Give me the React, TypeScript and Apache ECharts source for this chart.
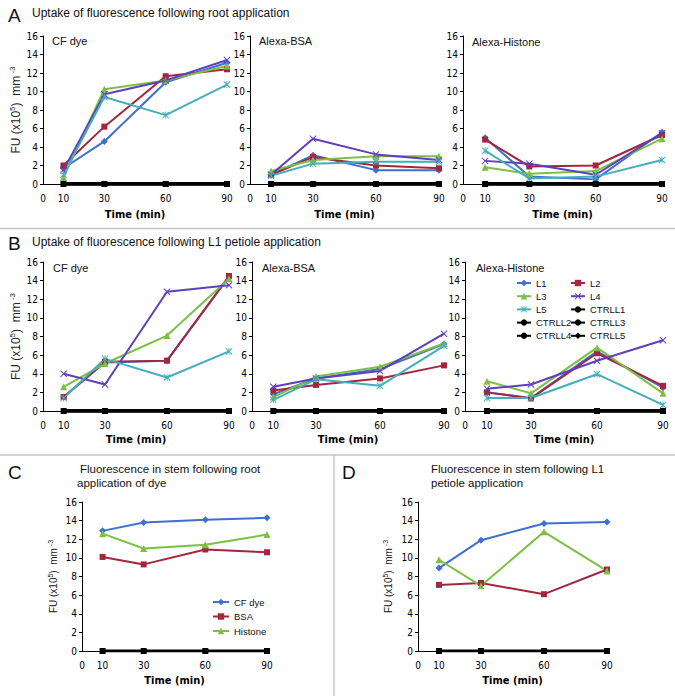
import React, { useEffect, useRef } from "react";
import * as echarts from "echarts";

// ---------- data ----------
const times = [10, 30, 60, 90];
const xTickValues = [0, 10, 30, 60, 90];
const lineNames = ["L1", "L2", "L3", "L4", "L5"];
const ctrlNames = ["CTRLL1", "CTRLL2", "CTRLL3", "CTRLL4", "CTRLL5"];
const stemNames = ["CF dye", "BSA", "Histone"];
const control = [0, 0, 0, 0];

// A: root application (rows L1..L5, columns 10,30,60,90 min)
const rootCFDye = [
  [1.7, 4.6, 11.0, 13.1],
  [2.0, 6.2, 11.65, 12.4],
  [0.7, 10.25, 11.2, 12.75],
  [1.5, 9.7, 11.2, 13.4],
  [1.0, 9.4, 7.45, 10.75],
];
const rootBSA = [
  [1.0, 3.1, 1.5, 1.5],
  [1.0, 2.9, 2.0, 1.7],
  [1.4, 2.6, 3.0, 3.0],
  [1.0, 4.9, 3.2, 2.6],
  [0.9, 2.2, 2.4, 2.4],
];
const rootHistone = [
  [5.0, 0.8, 0.5, 5.6],
  [4.8, 1.9, 2.0, 5.3],
  [1.8, 1.1, 1.4, 4.9],
  [2.5, 2.2, 1.0, 5.5],
  [3.6, 0.6, 0.8, 2.6],
];
// B: L1 petiole application
const petioleCFDye = [
  [1.5, 5.2, 5.4, 14.4],
  [1.5, 5.3, 5.4, 14.5],
  [2.6, 5.1, 8.1, 14.2],
  [4.0, 2.85, 12.8, 13.5],
  [1.4, 5.6, 3.6, 6.4],
];
const petioleBSA = [
  [1.8, 3.5, 4.5, 7.2],
  [2.2, 2.8, 3.5, 4.9],
  [1.5, 3.7, 4.75, 7.25],
  [2.6, 3.5, 4.3, 8.3],
  [1.2, 3.4, 2.7, 7.0],
];
const petioleHistone = [
  [2.0, 1.4, 6.4, 2.5],
  [2.0, 1.35, 6.2, 2.7],
  [3.2, 1.9, 6.8, 1.9],
  [2.4, 2.85, 5.4, 7.6],
  [1.4, 1.4, 3.95, 0.65],
];
// C / D: stem
const stemRoot = [
  [12.9, 13.8, 14.1, 14.3],
  [10.1, 9.3, 10.9, 10.6],
  [12.6, 11.0, 11.4, 12.5],
];
const stemPetiole = [
  [8.9, 11.9, 13.7, 13.85],
  [7.1, 7.3, 6.1, 8.75],
  [9.8, 7.0, 12.8, 8.6],
];

// ---------- styles ----------
const FONT = "'Liberation Sans', Arial, sans-serif";
const NARROW = "'Liberation Sans Narrow', 'DejaVu Sans Condensed', 'Liberation Sans', sans-serif";
const lineColors = ["#3F6FD0", "#A3263F", "#7BC043", "#5E3FBF", "#42AFBA"];
const X_PATH = "path://M0,1 L1,0 L5,4 L9,0 L10,1 L6,5 L10,9 L9,10 L5,6 L1,10 L0,9 L4,5 Z";
const STAR_PATH =
  "path://M0,1 L1,0 L5,4 L9,0 L10,1 L6,5 L10,9 L9,10 L5,6 L1,10 L0,9 L4,5 Z M4.4,0 L5.6,0 L5.6,10 L4.4,10 Z";
const lineSymbols = ["diamond", "rect", "triangle", X_PATH, STAR_PATH];
const lineSymbolSizes = [7, 6, 7, 7, 7];
const ctrlSymbols = ["circle", "circle", "none", "none", "diamond"];

const gridBoxes = [
  [43, 36, 184, 148],
  [250, 36, 189, 148],
  [463, 36, 199, 148],
  [43, 262, 186, 149],
  [252, 262, 192, 149],
  [465, 262, 198, 149],
  [82, 502, 185, 149],
  [418, 502, 189, 149],
];

function buildOption() {
  const grids = gridBoxes.map(([l, t, w, h]) => ({ left: l, top: t, width: w, height: h }));
  const yNameGrids: Record<number, { gap: number; size: number }> = {
    0: { gap: 17, size: 12 },
    3: { gap: 17, size: 12 },
    6: { gap: 23, size: 10 },
    7: { gap: 24, size: 10 },
  };
  const xNameGap = [25, 25, 25, 23, 23, 23, 24, 24];
  const xAxes = gridBoxes.map((_, g) => ({
    gridIndex: g,
    type: "value",
    min: 0,
    max: 90,
    axisLine: { onZero: false, lineStyle: { color: "#000", width: 1 } },
    axisTick: { show: false },
    splitLine: { show: false },
    axisLabel: {
      customValues: xTickValues,
      margin: 9,
      fontSize: 10,
      color: "#000",
      fontFamily: NARROW,
    },
    name: "Time (min)",
    nameLocation: "middle",
    nameGap: xNameGap[g],
    nameTextStyle: { fontWeight: "bold", fontSize: 11, color: "#000", fontFamily: NARROW },
  }));
  const yAxes = gridBoxes.map((_, g) => {
    const nm = yNameGrids[g];
    return {
      gridIndex: g,
      type: "value",
      min: 0,
      max: 16,
      interval: 2,
      axisLine: { show: true, lineStyle: { color: "#000", width: 1 } },
      axisTick: { show: true, length: 3, lineStyle: { color: "#000" } },
      splitLine: { show: false },
      axisLabel: { fontSize: 10, margin: 5, color: "#000", fontFamily: NARROW },
      name: nm ? "FU (x10{sup|5})  mm{sup| -3}" : "",
      nameLocation: "middle",
      nameGap: nm ? nm.gap : 0,
      nameTextStyle: nm
        ? {
            fontSize: nm.size,
            color: "#222",
            fontFamily: FONT,
            lineHeight: nm.size + 2,
            rich: {
              sup: {
                fontSize: Math.round(nm.size * 0.7),
                lineHeight: Math.round(nm.size * 0.7),
                verticalAlign: "top",
                color: "#222",
                fontFamily: FONT,
              },
            },
          }
        : undefined,
    };
  });

  const series: any[] = [];
  const ctrlOverlay = (g: number) => ({
    type: "line",
    name: "ctrl",
    xAxisIndex: g,
    yAxisIndex: g,
    data: times.map((t, j) => [t, control[j]]),
    symbol: "rect",
    symbolSize: 6,
    color: "#000",
    lineStyle: { width: 3, color: "#000" },
    itemStyle: { color: "#000" },
    z: 4,
  });

  const lPanels = [rootCFDye, rootBSA, rootHistone, petioleCFDye, petioleBSA, petioleHistone];
  lPanels.forEach((panel, g) => {
    ctrlNames.forEach((n, k) => {
      series.push({
        type: "line",
        name: n,
        xAxisIndex: g,
        yAxisIndex: g,
        data: times.map((t, j) => [t, control[j]]),
        symbol: ctrlSymbols[k],
        symbolSize: 5,
        color: "#000",
        lineStyle: { width: 3, color: "#000" },
        itemStyle: { color: "#000" },
        z: 2,
      });
    });
    series.push(ctrlOverlay(g));
    lineNames.forEach((n, k) => {
      series.push({
        type: "line",
        name: n,
        xAxisIndex: g,
        yAxisIndex: g,
        data: times.map((t, j) => [t, panel[k][j]]),
        symbol: lineSymbols[k],
        symbolSize: lineSymbolSizes[k],
        color: lineColors[k],
        lineStyle: { width: 2, color: lineColors[k] },
        itemStyle: { color: lineColors[k] },
        z: 3,
      });
    });
  });
  [stemRoot, stemPetiole].forEach((panel, i) => {
    const g = 6 + i;
    series.push(ctrlOverlay(g));
    stemNames.forEach((n, k) => {
      series.push({
        type: "line",
        name: n,
        xAxisIndex: g,
        yAxisIndex: g,
        data: times.map((t, j) => [t, panel[k][j]]),
        symbol: lineSymbols[k],
        symbolSize: lineSymbolSizes[k],
        color: lineColors[k],
        lineStyle: { width: 2, color: lineColors[k] },
        itemStyle: { color: lineColors[k] },
        z: 3,
      });
    });
  });

  const legendBase = {
    orient: "vertical",
    padding: 0,
    itemWidth: 14,
    itemHeight: 8,
    itemGap: 1.2,
    textStyle: { fontSize: 9.5, color: "#111", fontFamily: FONT, lineHeight: 12 },
  };
  const legends = [
    { ...legendBase, left: 516, top: 277, data: ["L1", "L3", "L5", "CTRLL2", "CTRLL4"] },
    { ...legendBase, left: 570, top: 277, data: ["L2", "L4", "CTRLL1", "CTRLL3", "CTRLL5"] },
    {
      ...legendBase,
      left: 212,
      top: 596,
      itemWidth: 16,
      itemGap: 2.5,
      data: stemNames,
    },
  ];

  const txt = (text: string, x: number, y: number, size: number, extra: any = {}) => ({
    type: "text",
    x,
    y,
    silent: true,
    style: {
      text,
      fontSize: size,
      fontFamily: FONT,
      fill: "#111",
      verticalAlign: "middle",
      align: "left",
      ...extra,
    },
  });
  const sep = (x1: number, y1: number, x2: number, y2: number) => ({
    type: "line",
    silent: true,
    shape: { x1, y1, x2, y2 },
    style: { stroke: "#c4c4c4", lineWidth: 1.5 },
  });

  const graphic = [
    sep(0, 228.5, 675, 228.5),
    sep(0, 455, 675, 455),
    sep(334, 455, 334, 696),
    txt("A", 8, 15, 19),
    txt("Uptake of fluorescence following root application", 32, 13, 12),
    txt("B", 8, 243, 19),
    txt("Uptake of fluorescence following L1 petiole application", 32, 242, 12),
    txt("C", 8, 472, 19),
    txt("Fluorescence in stem following root", 80, 469, 11.5),
    txt("application of dye", 77, 483, 11.5),
    txt("D", 342, 472, 19),
    txt("Fluorescence in stem following L1", 431, 469, 11.5),
    txt("petiole application", 431, 483, 11.5),
    txt("CF dye", 52, 41, 11),
    txt("Alexa-BSA", 259, 41, 11),
    txt("Alexa-Histone", 472, 42, 11),
    txt("CF dye", 53, 268, 11),
    txt("Alexa-BSA", 262, 268, 11),
    txt("Alexa-Histone", 476, 268, 11),
  ];

  return {
    animation: false,
    backgroundColor: "#fff",
    grid: grids,
    xAxis: xAxes,
    yAxis: yAxes,
    legend: legends,
    series,
    graphic,
  };
}

export default function App() {
  const ref = useRef<HTMLDivElement>(null);
  useEffect(() => {
    document.body.style.margin = "0";
    const chart = echarts.init(ref.current!, null, { renderer: "svg" });
    chart.setOption(buildOption() as any);
    return () => chart.dispose();
  }, []);
  return <div ref={ref} style={{ width: 675, height: 696 }} />;
}
